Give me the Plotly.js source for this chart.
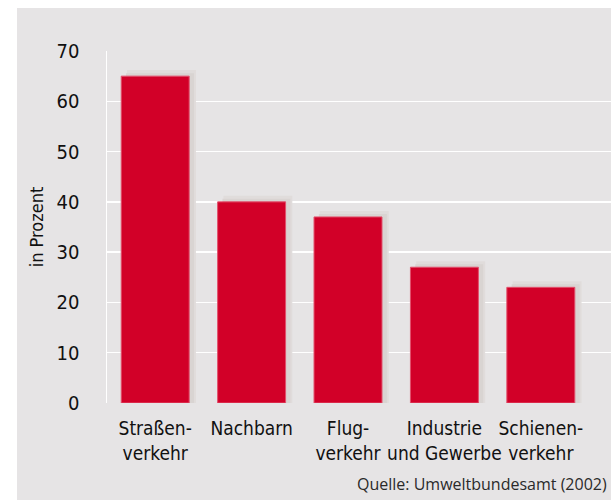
<!DOCTYPE html>
<html>
<head>
<meta charset="utf-8">
<script src="https://cdn.plot.ly/plotly-3.0.1.min.js"></script>
<style>
  html, body { margin: 0; padding: 0; background: #ffffff; width: 611px; height: 500px; overflow: hidden; }
  #chart { position: absolute; left: 17px; top: 8px; width: 594px; height: 492px; }
  #chart .xtick text, #chart .ytick text, #chart .ytitle { font-stretch: condensed !important; }
</style>
</head>
<body>
<div id="chart"></div>
<script>
const categories = ["Straßen-<br>verkehr", "Nachbarn", "Flug-<br>verkehr", "Industrie<br>und Gewerbe", "Schienen-<br>verkehr"];
const values = [65, 40, 37, 27, 23];
const yTicks = [0, 10, 20, 30, 40, 50, 60, 70];
const yTitle = "in Prozent";
const sourceText = "Quelle: Umweltbundesamt (2002)";

const FONT = '"DejaVu Sans", sans-serif';
const barWidth = 0.705;
const xs = categories.map((c, i) => i);

const shadowOuter = {
  type: 'bar', x: xs, y: values.map(v => v + 1.2),
  width: barWidth + 0.01, offset: -barWidth / 2 + 0.06,
  marker: { color: '#e0dcdb', line: { width: 0 } },
  hoverinfo: 'skip', showlegend: false
};
const shadowInner = {
  type: 'bar', x: xs, y: values.map(v => v + 0.6),
  width: barWidth, offset: -barWidth / 2 + 0.05,
  marker: { color: '#d9d4d2', line: { width: 0 } },
  hoverinfo: 'skip', showlegend: false
};
const bars = {
  type: 'bar', x: xs, y: values,
  width: barWidth, offset: -barWidth / 2,
  marker: { color: '#d20028', line: { width: 1, color: '#e2506c' } },
  showlegend: false
};

const layout = {
  width: 594, height: 492,
  margin: { l: 89.5, r: 0, t: 43, b: 96.5 },
  paper_bgcolor: '#e6e4e5',
  plot_bgcolor: '#e6e4e5',
  barmode: 'overlay',
  font: { family: FONT, color: '#111111', size: 19 },
  xaxis: {
    range: [-0.5, 4.728],
    tickmode: 'array', tickvals: xs, ticktext: categories,
    tickangle: 0,
    showgrid: false, zeroline: false, showline: false,
    ticks: '', ticklabelstandoff: 12,
    tickfont: { family: FONT, size: 19, color: '#111111' },
    fixedrange: true
  },
  yaxis: {
    range: [0, 70],
    tickmode: 'array', tickvals: yTicks,
    showgrid: true, gridcolor: '#ffffff', gridwidth: 1.5,
    zeroline: false,
    showline: true, linecolor: '#ffffff', linewidth: 1.5,
    ticks: '', ticklabelstandoff: 22,
    tickfont: { family: FONT, size: 20, color: '#111111' },
    title: { text: yTitle, font: { family: FONT, size: 18, color: '#111111' }, standoff: 5 },
    fixedrange: true
  },
  annotations: [{
    xref: 'paper', yref: 'paper', x: 1, y: 0,
    xanchor: 'right', yanchor: 'bottom',
    xshift: -2, yshift: -94,
    showarrow: false,
    text: sourceText,
    font: { family: '"Open Sans", "DejaVu Sans", sans-serif', size: 16, color: '#2a2a2a' }
  }]
};

Plotly.newPlot('chart', [shadowOuter, shadowInner, bars], layout, { displayModeBar: false, staticPlot: true });
</script>
</body>
</html>
